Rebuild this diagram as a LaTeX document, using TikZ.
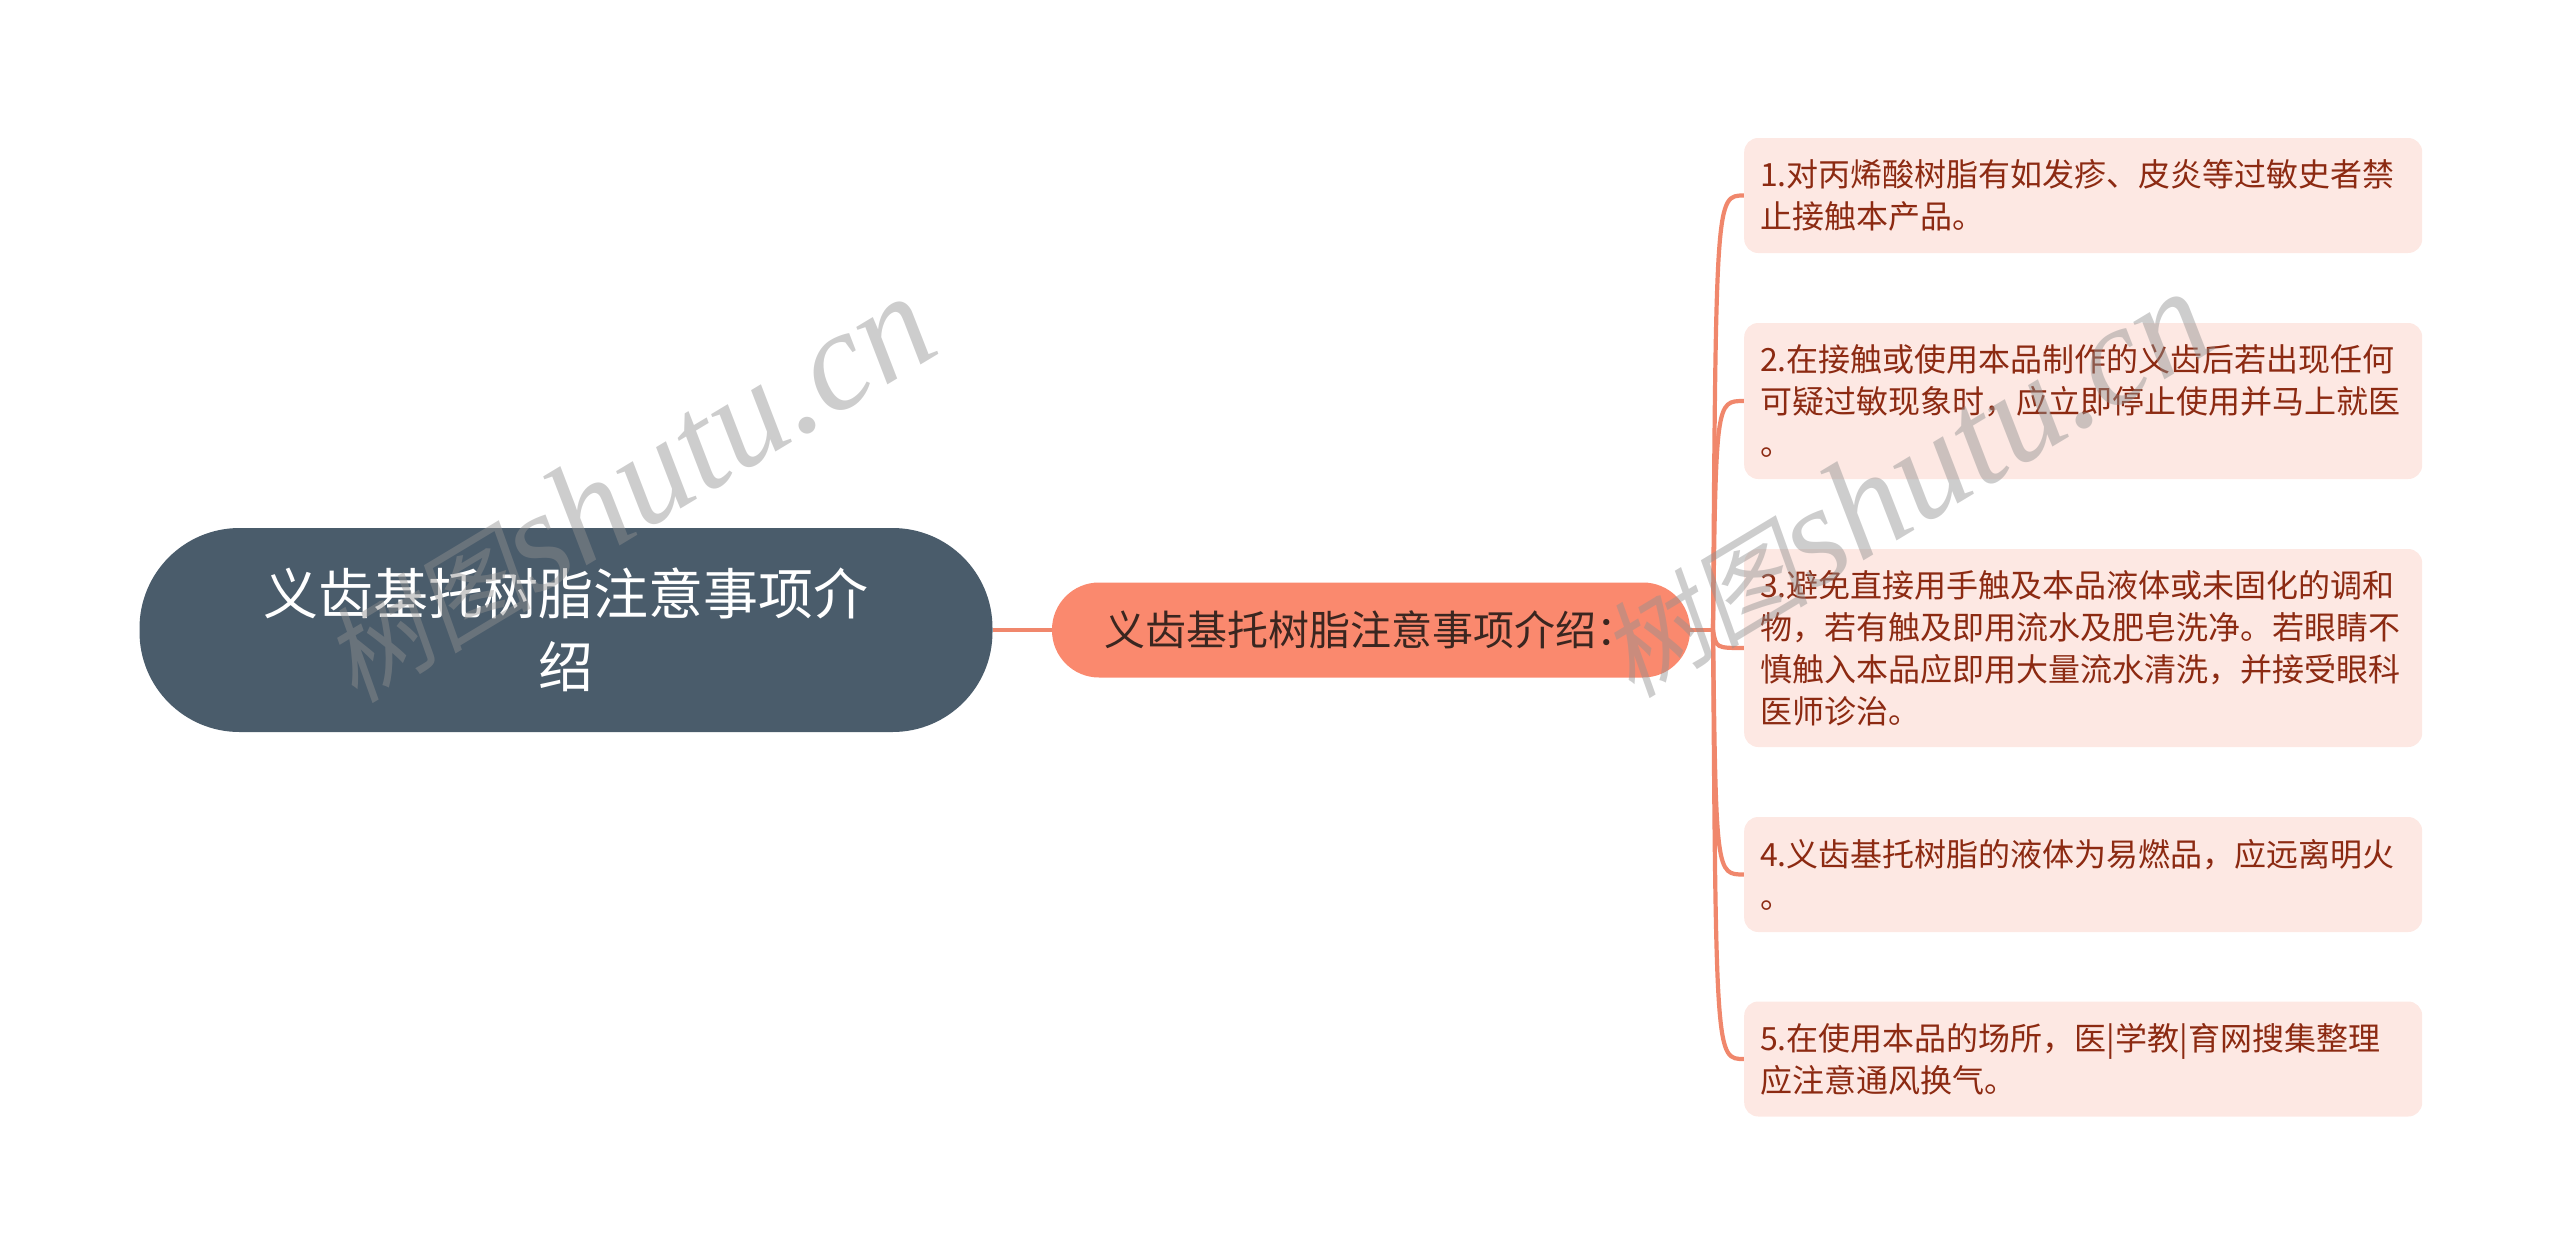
\documentclass[tikz,border=0pt]{standalone}
\usepackage{fontspec}
\setmainfont{Noto Sans CJK SC}
\newfontfamily\wmlat{Liberation Serif}
\newfontfamily\wmcjk[FakeSlant=0.2]{Noto Sans CJK SC}
\usetikzlibrary{backgrounds}
\definecolor{rootC}{HTML}{4A5C6B}
\definecolor{midC}{HTML}{FA896E}
\definecolor{midT}{HTML}{3A2620}
\definecolor{lineC}{HTML}{F0876C}
\definecolor{leafC}{HTML}{FDE8E3}
\definecolor{leafT}{HTML}{8C2A12}
\definecolor{wmC}{HTML}{909090}
\tikzset{
  conn/.style={draw=lineC, line width=4.2pt},
  rootbox/.style={fill=rootC, rounded corners=100pt, minimum width=853pt, minimum height=204pt,
    text=white, font=\fontsize{55}{73}\selectfont, align=center, inner sep=0pt},
  midbox/.style={fill=midC, rounded corners=47pt, minimum width=638pt, minimum height=95pt,
    text=midT, font=\fontsize{41}{46}\selectfont, inner sep=0pt},
  leaf/.style={fill=leafC, rounded corners=14pt, minimum width=678pt, text width=646pt,
    inner xsep=16pt, inner ysep=0pt, align=left, anchor=west, text=leafT,
    font=\fontsize{32}{42}\selectfont},
  wm/.style={text=wmC, opacity=0.45, anchor=base west, rotate=31, inner sep=0pt}
}
\begin{document}
\begin{tikzpicture}[x=1pt,y=-1pt]
\useasboundingbox (0,0) rectangle (2560,1255);

\node[rootbox] (root) at (566,630) {义齿基托树脂注意事项介\\绍};
\node[midbox] (mid) at (1371,630) {义齿基托树脂注意事项介绍：};

\node[leaf, minimum height=115pt] (c1) at (1744,195.5)
  {1.对丙烯酸树脂有如发疹、皮炎等过敏史者禁\\止接触本产品。};
\node[leaf, minimum height=156pt] (c2) at (1744,401)
  {2.在接触或使用本品制作的义齿后若出现任何\\可疑过敏现象时，应立即停止使用并马上就医\\。};
\node[leaf, minimum height=198pt] (c3) at (1744,648)
  {3.避免直接用手触及本品液体或未固化的调和\\物，若有触及即用流水及肥皂洗净。若眼睛不\\慎触入本品应即用大量流水清洗，并接受眼科\\医师诊治。};
\node[leaf, minimum height=115pt] (c4) at (1744,874.5)
  {4.义齿基托树脂的液体为易燃品，应远离明火\\。};
\node[leaf, minimum height=115pt] (c5) at (1744,1059)
  {5.在使用本品的场所，医|学教|育网搜集整理\\应注意通风换气。};

\coordinate (j) at (1713,630);

\begin{scope}[on background layer]
\draw[conn] (root.east) -- (mid.west);
\draw[conn] (mid.east) -- (j);
\foreach \c in {c1,c2,c3,c4,c5}{
  \draw[conn] (j) .. controls ([xshift=3pt]j |- \c.west) .. (\c.west);
}
\end{scope}

\node[wm] (wm1) at (355,705) {{\wmcjk\fontsize{105}{105}\selectfont 树图}{\wmlat\itshape\fontsize{142}{142}\selectfont shutu.cn}};
\node[wm] (wm2) at (1632,700) {{\wmcjk\fontsize{105}{105}\selectfont 树图}{\wmlat\itshape\fontsize{142}{142}\selectfont shutu.cn}};
\end{tikzpicture}
\end{document}
